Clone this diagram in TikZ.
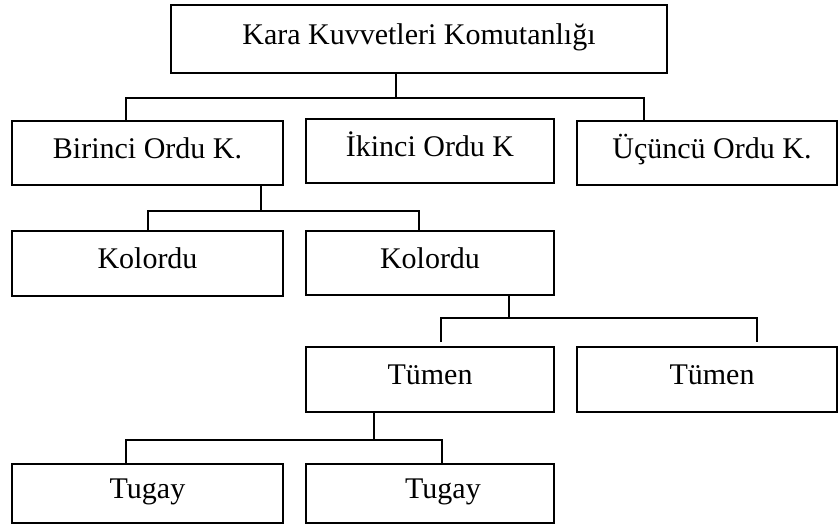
\documentclass[tikz,border=0pt]{standalone}
\usepackage{fontspec}
\setmainfont{Liberation Serif}
\begin{document}
\begin{tikzpicture}[x=1pt,y=-1pt,
  unit/.style={draw, line width=1.5pt, inner sep=0pt,
    text height=20pt, text depth=10pt,
    font=\fontsize{30}{36}\selectfont},
  link/.style={line width=1.4pt}]
\useasboundingbox (0,0) rectangle (839,525);

% Command levels, top to bottom
\node[unit, minimum width=496pt, minimum height=68pt] (hq)   at (419,39)    {Kara Kuvvetleri Komutanlığı};

\node[unit, minimum width=271pt, minimum height=64pt] (ord1) at (147.5,153) {Birinci Ordu K.};
\node[unit, minimum width=248pt, minimum height=64pt] (ord2) at (430,151)   {İkinci Ordu K};
\node[unit, minimum width=260pt, minimum height=64pt] (ord3) at (707,153)   {\hspace*{10pt}Üçüncü Ordu K.};

\node[unit, minimum width=271pt, minimum height=65pt] (kol1) at (147.5,263.5) {Kolordu};
\node[unit, minimum width=248pt, minimum height=64pt] (kol2) at (430,263)     {Kolordu};

\node[unit, minimum width=248pt, minimum height=65pt] (tum1) at (430,379.5) {Tümen};
\node[unit, minimum width=260pt, minimum height=65pt] (tum2) at (707,379.5) {\hspace*{10pt}Tümen};

\node[unit, minimum width=271pt, minimum height=59pt] (tug1) at (147.5,493.5) {Tugay};
\node[unit, minimum width=248pt, minimum height=59pt] (tug2) at (430,493.5)   {\hspace*{26pt}Tugay};

% Branch points of the connectors
\coordinate (hqj)  at (396,98);
\coordinate (b1l)  at (126,98);
\coordinate (b1r)  at (644,98);
\coordinate (o1j)  at (261,211);
\coordinate (b2l)  at (148,211);
\coordinate (b2r)  at (419,211);
\coordinate (k2j)  at (509,318);
\coordinate (b3l)  at (441,318);
\coordinate (b3r)  at (757,318);
\coordinate (b3le) at (441,342);
\coordinate (b3re) at (757,342);
\coordinate (t1j)  at (374,440);
\coordinate (b4l)  at (126,440);
\coordinate (b4r)  at (442,440);

% Headquarters to armies
\draw[link] (hqj |- hq.south) -- (hqj);
\draw[link] (b1l |- ord1.north) -- (b1l) -- (b1r) -- (b1r |- ord3.north);

% First army to corps
\draw[link] (o1j |- ord1.south) -- (o1j);
\draw[link] (b2l |- kol1.north) -- (b2l) -- (b2r) -- (b2r |- kol2.north);

% Corps to divisions
\draw[link] (k2j |- kol2.south) -- (k2j);
\draw[link] (b3le) -- (b3l) -- (b3r) -- (b3re);

% Division to brigades
\draw[link] (t1j |- tum1.south) -- (t1j);
\draw[link] (b4l |- tug1.north) -- (b4l) -- (b4r) -- (b4r |- tug2.north);
\end{tikzpicture}
\end{document}
